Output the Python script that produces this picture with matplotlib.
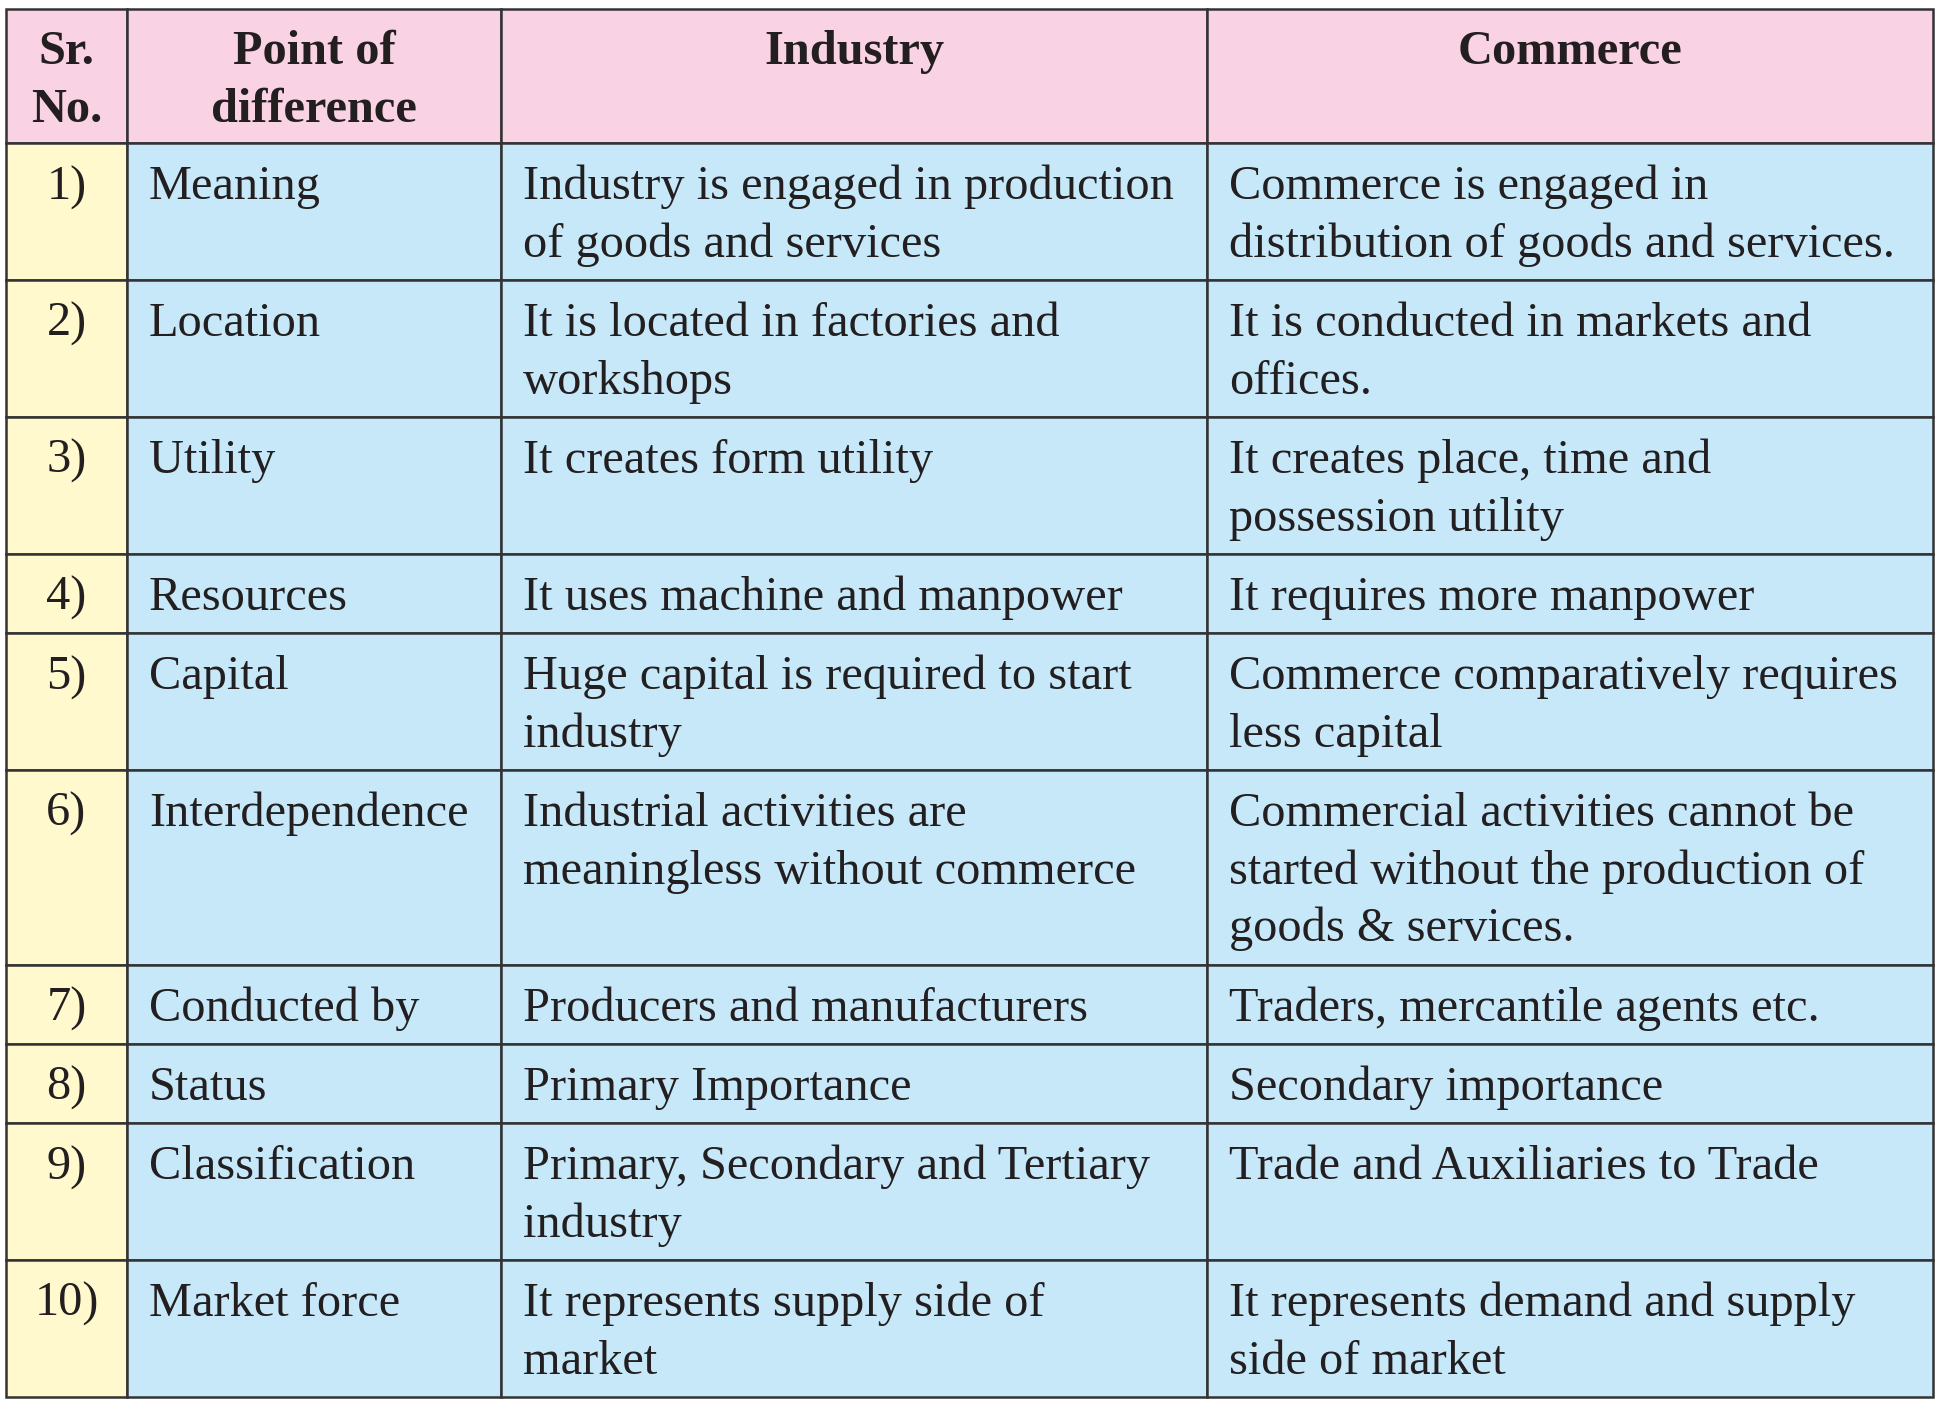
import matplotlib.pyplot as plt
from matplotlib.patches import Rectangle

# table content
header = ['Sr.\nNo.', 'Point of\ndifference', 'Industry', 'Commerce']
sr_no = ['1)', '2)', '3)', '4)', '5)', '6)', '7)', '8)', '9)', '10)']
points = ['Meaning', 'Location', 'Utility', 'Resources', 'Capital',
          'Interdependence', 'Conducted by', 'Status', 'Classification',
          'Market force']
industry = [
    'Industry is engaged in production\nof goods and services',
    'It is located in factories and\nworkshops',
    'It creates form utility',
    'It uses machine and manpower',
    'Huge capital is required to start\nindustry',
    'Industrial activities are\nmeaningless without commerce',
    'Producers and manufacturers',
    'Primary Importance',
    'Primary, Secondary and Tertiary\nindustry',
    'It represents supply side of\nmarket',
]
commerce = [
    'Commerce is engaged in\ndistribution of goods and services.',
    'It is conducted in markets and\noffices.',
    'It creates place, time and\npossession utility',
    'It requires more manpower',
    'Commerce comparatively requires\nless capital',
    'Commercial activities cannot be\nstarted without the production of\ngoods & services.',
    'Traders, mercantile agents etc.',
    'Secondary importance',
    'Trade and Auxiliaries to Trade',
    'It represents demand and supply\nside of market',
]

W, H = 1940, 1405
col_x = [6, 127, 501, 1207, 1933]
top = 9
line_h = 57.6
pad = 21.7
head_pad = 19
base_off = 56
fs = 34.8
font = 'Liberation Serif'
txt_col = '#231f20'
edge = '#333333'
pink, yellow, blue = '#f9d2e4', '#fff9cd', '#c6e8f9'

fig = plt.figure(figsize=(W / 100, H / 100), dpi=100)
ax = fig.add_axes([0, 0, 1, 1])
ax.set_xlim(0, W)
ax.set_ylim(H, 0)
ax.axis('off')


def nlines(s):
    return s.count('\n') + 1


def put_lines(x, y0, s, ha='left', weight='normal'):
    for i, ln in enumerate(s.split('\n')):
        ax.text(x, y0 + base_off + i * line_h, ln, ha=ha, va='baseline',
                fontsize=fs, family=font, color=txt_col, fontweight=weight)


# header row
hh = head_pad + max(nlines(h) for h in header) * line_h
for j, h in enumerate(header):
    x0, x1 = col_x[j], col_x[j + 1]
    ax.add_patch(Rectangle((x0, top), x1 - x0, hh, facecolor=pink,
                           edgecolor=edge, lw=1.8))
    put_lines((x0 + x1) / 2, top - 1, h, ha='center', weight='bold')

# body rows
y = top + hh
for k in range(len(sr_no)):
    cells = [sr_no[k], points[k], industry[k], commerce[k]]
    rh = pad + max(nlines(c) for c in cells) * line_h
    for j, c in enumerate(cells):
        x0, x1 = col_x[j], col_x[j + 1]
        fc = yellow if j == 0 else blue
        ax.add_patch(Rectangle((x0, y), x1 - x0, rh, facecolor=fc,
                               edgecolor=edge, lw=1.8))
        if j == 0:
            put_lines((x0 + x1) / 2, y, c, ha='center')
        else:
            put_lines(x0 + 22, y, c)
    y += rh

fig.savefig('out.png', dpi=100)
